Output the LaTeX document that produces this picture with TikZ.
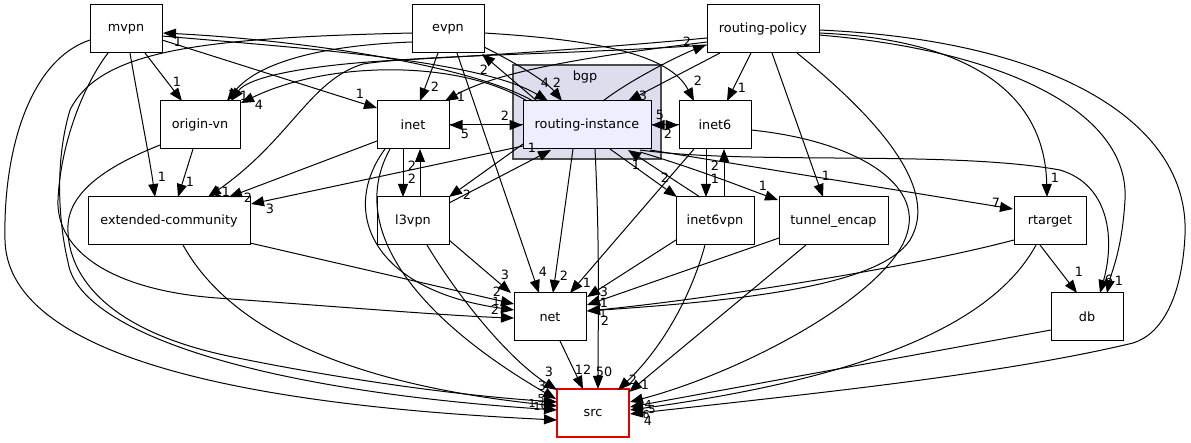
\documentclass[tikz,border=0pt]{standalone}
\usepackage{fontspec}
\setmainfont{DejaVu Sans}
\usetikzlibrary{arrows.meta,calc}
\definecolor{clusterfill}{HTML}{DDDDEE}
\definecolor{rifill}{HTML}{EEEEFF}
\definecolor{srcred}{RGB}{230,0,0}
\begin{document}
\begin{tikzpicture}[x=1pt,y=-1pt,
  box/.style={draw=black, line width=1pt, fill=white, minimum width=72pt, minimum height=48pt, inner sep=0pt, font=\fontsize{12.8}{15}\selectfont},
  e/.style={-{Triangle[length=13pt,width=10pt]}, line width=1pt},
  lab/.style={inner sep=0pt, font=\fontsize{12.8}{15}\selectfont},
  smlab/.style={inner sep=0pt, font=\fontsize{11}{13}\selectfont}]
\useasboundingbox (0,0) rectangle (1191,443);
% cluster
\node[draw=black!70, line width=1.2pt, fill=clusterfill, minimum width=148pt, minimum height=94pt, inner sep=0pt] (bgp) at (587,112) {};
\node[lab] (bgplab) at (585,77) {bgp};
% nodes
\node[box] (mvpn) at (126,29) {mvpn};
\node[box] (evpn) at (448,29) {evpn};
\node[box, minimum width=112pt] (rpol) at (763,29) {routing-policy};
\node[box, minimum width=128pt, fill=rifill] (ri) at (587,125) {routing-instance};
\node[box] (inet) at (413,125) {inet};
\node[box] (inet6) at (715,125) {inet6};
\node[box, minimum width=80pt] (ovn) at (200,125) {origin-vn};
\node[box, minimum width=162pt] (ec) at (169,221) {extended-community};
\node[box] (l3vpn) at (413,221) {l3vpn};
\node[box, minimum width=78pt] (i6vpn) at (715,221) {inet6vpn};
\node[box, minimum width=109pt] (tenc) at (833.5,221) {tunnel\_encap};
\node[box] (rt) at (1050,221) {rtarget};
\node[box] (net) at (550,317) {net};
\node[box] (db) at (1087,317) {db};
\node[box, draw=srcred, line width=1.4pt] (src) at (593,413) {src};
% edges from mvpn
\draw[e] ($(mvpn)+(19,24)$) -- ($(ovn)+(-18,-24)$);
\draw[e] ($(mvpn)+(4,24)$) .. controls (138,100) and (150,160) .. ($(ec)+(-14,-24)$);
\draw[e] ($(mvpn)+(36,11)$) -- ($(inet)+(-36,-17)$);
\draw[e] ($(mvpn)+(36,7)$) .. controls (300,48) and (480,60) .. ($(ri)+(-39,-24)$);
\draw[e] ($(mvpn)+(-36,11)$) .. controls (30,60) and (3,150) .. (5,240) .. controls (8,380) and (350,410) .. ($(src)+(-36,7)$);
\draw[e] ($(mvpn)+(-18,24)$) .. controls (80,90) and (60,150) .. (58,200) .. controls (56,250) and (110,290) .. (217,298) .. controls (330,306) and (450,316) .. ($(net)+(-36,1)$);
% edges from evpn
\draw[e] ($(evpn)+(-10,24)$) -- ($(inet)+(7,-24)$);
\draw[e] ($(evpn)+(36,18)$) .. controls (510,60) and (545,80) .. ($(ri)+(-25,-24)$);
\draw[e] ($(evpn)+(36,4)$) .. controls (600,40) and (670,55) .. ($(inet6)+(-21,-24)$);
\draw[e] ($(evpn)+(9,24)$) -- ($(net)+(-11,-24)$);
\draw[e] ($(evpn)+(-36,13)$) .. controls (330,45) and (260,60) .. ($(ovn)+(27,-24)$);
\draw[e] ($(evpn)+(-36,4)$) .. controls (200,38) and (100,50) .. (70,110) .. controls (55,160) and (58,220) .. (68,262) .. controls (78,330) and (250,390) .. ($(src)+(-36,-3)$);
% edges from routing-policy
\draw[e] ($(rpol)+(-56,9)$) .. controls (600,48) and (480,56) .. (400,60) .. controls (320,64) and (250,75) .. ($(ovn)+(31,-24)$);
\draw[e] ($(rpol)+(-56,13)$) .. controls (600,55) and (500,70) .. ($(inet)+(32,-24)$);
\draw[e] ($(rpol)+(-56,16)$) .. controls (560,55) and (420,55) .. (363,64) .. controls (310,80) and (290,140) .. ($(ec)+(39,-24)$);
\draw[e] ($(rpol)+(-43,24)$) -- ($(ri)+(41,-24)$);
\draw[e] ($(rpol)+(-12,24)$) -- ($(inet6)+(12,-24)$);
\draw[e] ($(rpol)+(9,24)$) -- ($(tenc)+(-10.5,-24)$);
\draw[e] ($(rpol)+(34,24)$) .. controls (880,120) and (940,190) .. (910,240) .. controls (880,285) and (750,300) .. ($(net)+(37,-6)$);
\draw[e] ($(rpol)+(56,4)$) .. controls (980,40) and (1045,100) .. ($(rt)+(-3,-24)$);
\draw[e] ($(rpol)+(56,6)$) .. controls (1000,50) and (1130,110) .. (1125,200) .. controls (1122,250) and (1112,270) .. ($(db)+(20,-24)$);
\draw[e] ($(rpol)+(56,1)$) .. controls (1050,40) and (1190,120) .. (1185,235) .. controls (1182,300) and (1160,335) .. (1133,343) .. controls (1000,375) and (800,395) .. ($(src)+(37,1)$);
% edges from routing-instance
\draw[e] ($(ri)+(-54,-24)$) .. controls (470,65) and (300,40) .. ($(mvpn)+(37,4)$);
\draw[e] ($(ri)+(-50,-24)$) -- ($(evpn)+(34,25)$);
\draw[e] ($(ri)+(-60,-24)$) .. controls (460,60) and (330,60) .. ($(ovn)+(41,-22)$);
\draw[e] ($(ri)+(16,-24)$) .. controls (630,80) and (680,55) .. ($(rpol)+(-57,16)$);
\draw[e] ($(ri)+(53,25)$) .. controls (750,165) and (950,150) .. (1060,170) .. controls (1110,185) and (1115,240) .. ($(db)+(13,-24)$);
\draw[e] ($(ri)+(63,25)$) -- ($(rt)+(-37,-12)$);
\draw[e] ($(ri)+(53,27)$) .. controls (700,170) and (750,190) .. ($(tenc)+(-55.5,-21)$);
\draw[e] ($(ri)+(23,24)$) -- ($(i6vpn)+(-38,-24)$);
\draw[e] (ri.west) -- (inet.east);
\draw[e] (ri.east) -- (inet6.west);
\draw[e] ($(ri)+(-64,19)$) -- ($(l3vpn)+(36,-24)$);
\draw[e] ($(ri)+(-64,21)$) -- ($(ec)+(82,-17)$);
\draw[e] ($(ri)+(-14,24)$) -- ($(net)+(3,-24)$);
\draw[e] ($(ri)+(8,24)$) .. controls (600,250) and (598,320) .. ($(src)+(5,-24)$);
% edges from inet
\draw[e] (inet.east) -- (ri.west);
\draw[e] ($(inet)+(-10,24)$) -- ($(l3vpn)+(-10,-24)$);
\draw[e] ($(inet)+(-36,16)$) -- ($(ec)+(60,-24)$);
\draw[e] ($(inet)+(-28,24)$) .. controls (340,210) and (370,290) .. ($(net)+(-36,-7)$);
\draw[e] ($(inet)+(-23,24)$) .. controls (345,230) and (420,320) .. ($(src)+(-37,-14)$);
% edges from inet6
\draw[e] (inet6.west) -- (ri.east);
\draw[e] ($(inet6)+(-9,24)$) -- ($(i6vpn)+(-9,-24)$);
\draw[e] ($(inet6)+(-21,24)$) -- ($(net)+(20,-24)$);
\draw[e] ($(inet6)+(36,5)$) .. controls (850,140) and (920,180) .. (908,230) .. controls (895,290) and (750,370) .. ($(src)+(37,-11)$);
% edges from origin-vn
\draw[e] ($(ovn)+(-7,24)$) -- ($(ec)+(9,-24)$);
\draw[e] ($(ovn)+(-40,20)$) .. controls (110,165) and (70,190) .. (68,225) .. controls (66,270) and (100,330) .. (233,357) .. controls (330,377) and (450,395) .. ($(src)+(-36,-11)$);
% edges from extended-community
\draw[e] ($(ec)+(81,22)$) -- ($(net)+(-36,-13)$);
\draw[e] ($(ec)+(14,24)$) .. controls (230,330) and (350,385) .. ($(src)+(-36,-7)$);
% edges from l3vpn
\draw[e] ($(l3vpn)+(7,-24)$) -- ($(inet)+(7,24)$);
\draw[e] ($(l3vpn)+(36,-18)$) -- ($(ri)+(-36,25)$);
\draw[e] ($(l3vpn)+(36,19)$) -- ($(net)+(-39,-24)$);
\draw[e] ($(l3vpn)+(14,24)$) .. controls (460,300) and (510,360) .. ($(src)+(-36,-23)$);
% edges from inet6vpn
\draw[e] ($(i6vpn)+(-15,-24)$) -- ($(ri)+(41,25)$);
\draw[e] ($(i6vpn)+(9,-24)$) -- ($(inet6)+(9,24)$);
\draw[e] ($(i6vpn)+(-39,19)$) -- ($(net)+(37,-20)$);
\draw[e] ($(i6vpn)+(-10,24)$) .. controls (690,300) and (660,350) .. ($(src)+(25,-23)$);
% edges from tunnel_encap
\draw[e] ($(tenc)+(-54.5,17)$) -- ($(net)+(37,-12)$);
\draw[e] ($(tenc)+(-27.5,24)$) -- ($(src)+(36,-21)$);
% edges from rtarget
\draw[e] ($(rt)+(-36,19)$) .. controls (900,270) and (700,300) .. ($(net)+(37,-6)$);
\draw[e] ($(rt)+(-10,24)$) -- ($(db)+(-10,-24)$);
\draw[e] ($(rt)+(-14,24)$) .. controls (990,330) and (850,380) .. ($(src)+(37,-3)$);
% other
\draw[e] ($(net)+(10,24)$) -- ($(src)+(-10,-24)$);
\draw[e] ($(db)+(-36,13)$) -- ($(src)+(37,-6)$);
% edge labels
\node[lab] (t1) at (177,82) {1};
\node[lab] (t2) at (162,177) {1};
\node[lab] (t3) at (360,94) {1};
\node[lab] (t4) at (545,83) {4};
\node[lab] (t5) at (178,42) {1};
\node[lab] (t6) at (435,87) {2};
\node[lab] (t7) at (557,83) {2};
\node[lab] (t8) at (484,70) {2};
\node[lab] (t9) at (698,81) {2};
\node[lab] (t10) at (543,272) {4};
\node[lab] (t11) at (232,95) {1};
\node[lab] (t12) at (244,96) {1};
\node[lab] (t13) at (259,105) {4};
\node[lab] (t14) at (461,97) {1};
\node[lab] (t15) at (222,192) {11};
\node[lab] (t16) at (643,96) {3};
\node[lab] (t17) at (687,42) {2};
\node[lab] (t18) at (742,88) {1};
\node[lab] (t19) at (826,176) {1};
\node[lab] (t24) at (996,203) {7};
\node[lab] (t21) at (1055,178) {1};
\node[lab] (t23) at (1109,280) {6};
\node[lab] (t22) at (1119,281) {1};
\node[lab] (t54) at (1079,272) {1};
\node[lab] (t25) at (763,186) {1};
\node[lab] (t26) at (665,178) {2};
\node[lab] (t27) at (636,165) {1};
\node[lab] (t28) at (715,179) {1};
\node[lab] (t29) at (715,166) {2};
\node[lab] (t30) at (505,116) {2};
\node[lab] (t31) at (465,134) {5};
\node[lab] (t32) at (660,115) {5};
\node[lab] (t33) at (668,134) {2};
\node[lab] (t34) at (412,179) {2};
\node[lab] (t35) at (412,166) {2};
\node[lab] (t36) at (467,195) {2};
\node[lab] (t37) at (532,148) {1};
\node[lab] (t38) at (270,209) {3};
\node[lab] (t39) at (248,198) {2};
\node[lab] (t40) at (190,182) {1};
\node[lab] (t55) at (497,292) {2};
\node[smlab] (t41) at (496,301) {1};
\node[lab] (t56) at (495,310) {2};
\node[lab] (t43) at (505,275) {3};
\node[lab] (t10b) at (564,276) {2};
\node[lab] (t48) at (587,283) {1};
\node[lab] (t49) at (604,292) {3};
\node[lab] (t51) at (604,303) {1};
\node[smlab] (t53) at (603,313) {1};
\node[lab] (t20) at (605,321) {2};
\node[lab] (t44) at (549,372) {3};
\node[lab] (t42) at (542,386) {3};
\node[lab] (t47) at (583,370) {12};
\node[lab] (t46) at (604,372) {50};
\node[lab] (t50) at (633,380) {2};
\node[lab] (t52) at (645,385) {1};
\node[smlab] (t57) at (532,403) {1};
\node[smlab] (t60) at (537,406) {1};
\node[smlab] (t58) at (541,399) {5};
\node[smlab] (t59) at (544,405) {6};
\node[smlab] (t61) at (648,404) {4};
\node[smlab] (t63) at (652,410) {5};
\node[smlab] (t62) at (646,414) {6};
\node[lab] (t64) at (648,421) {4};
\end{tikzpicture}
\end{document}
